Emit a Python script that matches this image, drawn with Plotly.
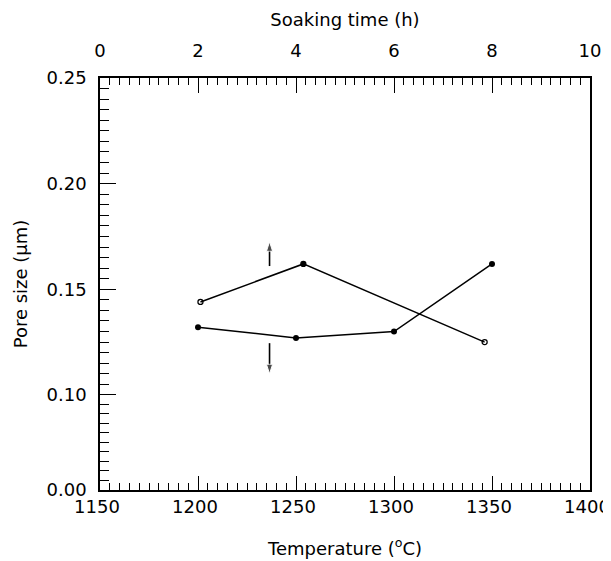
import numpy as np
import plotly.graph_objects as go

# Data
temperature_c = [1200, 1250, 1300, 1350]
pore_vs_temperature = [0.132, 0.127, 0.130, 0.162]

soaking_time_h = [2.05, 4.15, 7.85]
pore_vs_soaking = [0.144, 0.162, 0.125]
soaking_symbols = ["circle-open", "circle", "circle-open"]

y_bottom = 0.055  # compressed lower segment, labelled 0.00 in the reference
y_tick_vals = [y_bottom, 0.10, 0.15, 0.20, 0.25]
y_tick_text = ["0.00", "0.10", "0.15", "0.20", "0.25"]
y_minor_vals = list(np.linspace(y_bottom, 0.10, 11)) + list(np.arange(0.10, 0.2501, 0.005))

# direction indicators (pointing to the relevant axis)
arrow_x = [1236.5, 1236.5]
arrow_up_y = [0.161, 0.1725]
arrow_down_y = [0.1245, 0.110]

FONT = "DejaVu Sans"
fs = 18

fig = go.Figure()
fig.add_trace(go.Scatter(
    x=temperature_c, y=pore_vs_temperature, mode="lines+markers",
    line=dict(color="black", width=1.5),
    marker=dict(symbol="circle", size=6, color="black"),
    xaxis="x", yaxis="y", showlegend=False))
fig.add_trace(go.Scatter(
    x=soaking_time_h, y=pore_vs_soaking, mode="lines+markers",
    line=dict(color="black", width=1.5),
    marker=dict(symbol=soaking_symbols, size=5, color="black",
                line=dict(color="black", width=1.3)),
    xaxis="x2", yaxis="y", showlegend=False))
for ys in (arrow_up_y, arrow_down_y):
    fig.add_trace(go.Scatter(
        x=arrow_x, y=ys, mode="lines+markers",
        line=dict(color="black", width=1.6),
        marker=dict(symbol="arrow", angleref="previous", size=[0, 10], color="black"),
        xaxis="x", yaxis="y", showlegend=False, hoverinfo="skip"))

axis_common = dict(showline=True, linecolor="black", linewidth=1.5,
                   showgrid=False, zeroline=False, ticks="inside",
                   tickcolor="black", tickwidth=1.2, automargin=False,
                   ticklabeloverflow="allow",
                   tickfont=dict(family=FONT, size=fs, color="black"))

# the page body adds an 8px offset, so the figure is 8px smaller than the window
fig.update_layout(
    width=603, height=553,
    margin=dict(l=92, r=21, t=70, b=71),
    paper_bgcolor="white", plot_bgcolor="white",
    font=dict(family=FONT, size=fs, color="black"),
    xaxis=dict(**axis_common, range=[1150, 1400], tickmode="linear", tick0=1150, dtick=50,
               ticklen=14, ticklabelstandoff=0, ticklabelshift=-3,
               minor=dict(ticks="inside", dtick=5, tick0=1150, ticklen=7, tickcolor="black", tickwidth=1.2),
               title=dict(text="Temperature (<sup>o</sup>C)", standoff=26,
                          font=dict(family=FONT, size=fs))),
    xaxis2=dict(**axis_common, range=[0, 10], overlaying="x", side="top", anchor="y",
                tickmode="linear", tick0=0, dtick=2, ticklen=15, ticklabelstandoff=12,
                minor=dict(ticks="inside", dtick=0.2, tick0=0, ticklen=7, tickcolor="black", tickwidth=1.2),
                title=dict(text="Soaking time (h)", standoff=9,
                           font=dict(family=FONT, size=fs))),
    yaxis=dict(**axis_common, range=[y_bottom, 0.25], mirror=True,
               tickmode="array", tickvals=y_tick_vals, ticktext=y_tick_text,
               ticklen=16, ticklabelstandoff=8,
               minor=dict(ticks="inside", tickvals=y_minor_vals, ticklen=9, tickcolor="black", tickwidth=1.2),
               title=dict(text="Pore size (\u03bcm)", standoff=14,
                          font=dict(family=FONT, size=fs))),
)

fig.write_html("out.html")
